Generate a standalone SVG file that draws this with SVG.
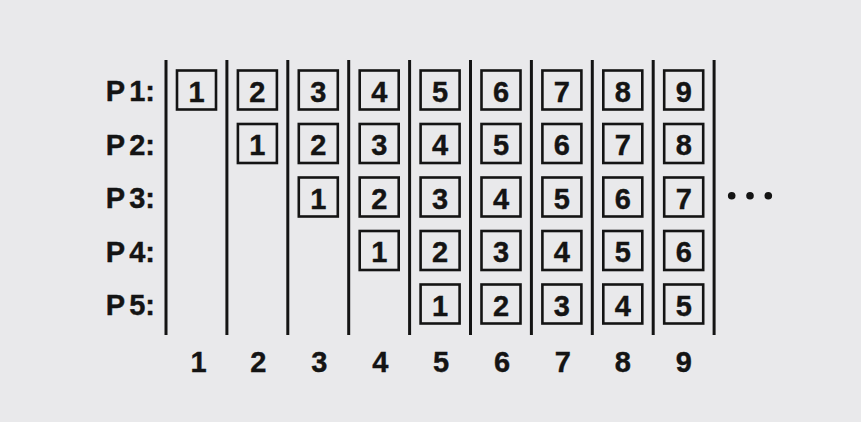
<svg xmlns="http://www.w3.org/2000/svg" width="861" height="422" viewBox="0 0 861 422">
<style>
.bg{fill:#e9e9eb}
.div{stroke:#141414;stroke-width:3;fill:none}
.box rect{fill:none;stroke:#141414;stroke-width:2.6}
.box text,.num,.lbl{font-family:"Liberation Sans",Arial,sans-serif;font-weight:bold;fill:#141414;stroke:#141414;stroke-width:0.4}
.box text{font-size:29px;text-anchor:middle}
.num{font-size:29px;text-anchor:middle}
.lbl{font-size:29px;text-anchor:end}
.dot{fill:#141414}
</style>
<rect class="bg" x="0" y="0" width="861" height="422"/>
<g id="connectors">
<line class="div" x1="166" y1="60" x2="166" y2="335"/>
<line class="div" x1="226.9" y1="60" x2="226.9" y2="335"/>
<line class="div" x1="287.8" y1="60" x2="287.8" y2="335"/>
<line class="div" x1="348.7" y1="60" x2="348.7" y2="335"/>
<line class="div" x1="409.6" y1="60" x2="409.6" y2="335"/>
<line class="div" x1="470.5" y1="60" x2="470.5" y2="335"/>
<line class="div" x1="531.4" y1="60" x2="531.4" y2="335"/>
<line class="div" x1="592.3" y1="60" x2="592.3" y2="335"/>
<line class="div" x1="653.2" y1="60" x2="653.2" y2="335"/>
<line class="div" x1="714.1" y1="60" x2="714.1" y2="335"/>
</g>
<g id="labels">
<text class="lbl" x="155" y="101">P<tspan dx="4">1:</tspan></text>
<text class="lbl" x="155" y="155">P<tspan dx="4">2:</tspan></text>
<text class="lbl" x="155" y="208">P<tspan dx="4">3:</tspan></text>
<text class="lbl" x="155" y="262">P<tspan dx="4">4:</tspan></text>
<text class="lbl" x="155" y="315">P<tspan dx="4">5:</tspan></text>
</g>
<g id="row1">
<g class="box" id="p1c1"><rect x="177" y="70.5" width="39" height="39"/><text x="196.5" y="101.5">1</text></g>
<g class="box" id="p1c2"><rect x="237.9" y="70.5" width="39" height="39"/><text x="257.4" y="101.5">2</text></g>
<g class="box" id="p1c3"><rect x="298.8" y="70.5" width="39" height="39"/><text x="318.3" y="101.5">3</text></g>
<g class="box" id="p1c4"><rect x="359.7" y="70.5" width="39" height="39"/><text x="379.2" y="101.5">4</text></g>
<g class="box" id="p1c5"><rect x="420.6" y="70.5" width="39" height="39"/><text x="440.1" y="101.5">5</text></g>
<g class="box" id="p1c6"><rect x="481.5" y="70.5" width="39" height="39"/><text x="501" y="101.5">6</text></g>
<g class="box" id="p1c7"><rect x="542.4" y="70.5" width="39" height="39"/><text x="561.9" y="101.5">7</text></g>
<g class="box" id="p1c8"><rect x="603.3" y="70.5" width="39" height="39"/><text x="622.8" y="101.5">8</text></g>
<g class="box" id="p1c9"><rect x="664.2" y="70.5" width="39" height="39"/><text x="683.7" y="101.5">9</text></g>
</g>
<g id="row2">
<g class="box" id="p2c2"><rect x="237.9" y="124" width="39" height="39"/><text x="257.4" y="155">1</text></g>
<g class="box" id="p2c3"><rect x="298.8" y="124" width="39" height="39"/><text x="318.3" y="155">2</text></g>
<g class="box" id="p2c4"><rect x="359.7" y="124" width="39" height="39"/><text x="379.2" y="155">3</text></g>
<g class="box" id="p2c5"><rect x="420.6" y="124" width="39" height="39"/><text x="440.1" y="155">4</text></g>
<g class="box" id="p2c6"><rect x="481.5" y="124" width="39" height="39"/><text x="501" y="155">5</text></g>
<g class="box" id="p2c7"><rect x="542.4" y="124" width="39" height="39"/><text x="561.9" y="155">6</text></g>
<g class="box" id="p2c8"><rect x="603.3" y="124" width="39" height="39"/><text x="622.8" y="155">7</text></g>
<g class="box" id="p2c9"><rect x="664.2" y="124" width="39" height="39"/><text x="683.7" y="155">8</text></g>
</g>
<g id="row3">
<g class="box" id="p3c3"><rect x="298.8" y="177.5" width="39" height="39"/><text x="318.3" y="208.5">1</text></g>
<g class="box" id="p3c4"><rect x="359.7" y="177.5" width="39" height="39"/><text x="379.2" y="208.5">2</text></g>
<g class="box" id="p3c5"><rect x="420.6" y="177.5" width="39" height="39"/><text x="440.1" y="208.5">3</text></g>
<g class="box" id="p3c6"><rect x="481.5" y="177.5" width="39" height="39"/><text x="501" y="208.5">4</text></g>
<g class="box" id="p3c7"><rect x="542.4" y="177.5" width="39" height="39"/><text x="561.9" y="208.5">5</text></g>
<g class="box" id="p3c8"><rect x="603.3" y="177.5" width="39" height="39"/><text x="622.8" y="208.5">6</text></g>
<g class="box" id="p3c9"><rect x="664.2" y="177.5" width="39" height="39"/><text x="683.7" y="208.5">7</text></g>
</g>
<g id="row4">
<g class="box" id="p4c4"><rect x="359.7" y="231" width="39" height="39"/><text x="379.2" y="262">1</text></g>
<g class="box" id="p4c5"><rect x="420.6" y="231" width="39" height="39"/><text x="440.1" y="262">2</text></g>
<g class="box" id="p4c6"><rect x="481.5" y="231" width="39" height="39"/><text x="501" y="262">3</text></g>
<g class="box" id="p4c7"><rect x="542.4" y="231" width="39" height="39"/><text x="561.9" y="262">4</text></g>
<g class="box" id="p4c8"><rect x="603.3" y="231" width="39" height="39"/><text x="622.8" y="262">5</text></g>
<g class="box" id="p4c9"><rect x="664.2" y="231" width="39" height="39"/><text x="683.7" y="262">6</text></g>
</g>
<g id="row5">
<g class="box" id="p5c5"><rect x="420.6" y="284.5" width="39" height="39"/><text x="440.1" y="315.5">1</text></g>
<g class="box" id="p5c6"><rect x="481.5" y="284.5" width="39" height="39"/><text x="501" y="315.5">2</text></g>
<g class="box" id="p5c7"><rect x="542.4" y="284.5" width="39" height="39"/><text x="561.9" y="315.5">3</text></g>
<g class="box" id="p5c8"><rect x="603.3" y="284.5" width="39" height="39"/><text x="622.8" y="315.5">4</text></g>
<g class="box" id="p5c9"><rect x="664.2" y="284.5" width="39" height="39"/><text x="683.7" y="315.5">5</text></g>
</g>
<g id="ellipsis">
<circle class="dot" cx="731.7" cy="195.7" r="3.8"/>
<circle class="dot" cx="750" cy="195.7" r="3.8"/>
<circle class="dot" cx="768.3" cy="195.7" r="3.8"/>
</g>
<g id="axis">
<text class="num" x="198.5" y="372">1</text>
<text class="num" x="258.4" y="372">2</text>
<text class="num" x="319.3" y="372">3</text>
<text class="num" x="380.2" y="372">4</text>
<text class="num" x="441.1" y="372">5</text>
<text class="num" x="502" y="372">6</text>
<text class="num" x="562.9" y="372">7</text>
<text class="num" x="622.8" y="372">8</text>
<text class="num" x="683.7" y="372">9</text>
</g>
</svg>
